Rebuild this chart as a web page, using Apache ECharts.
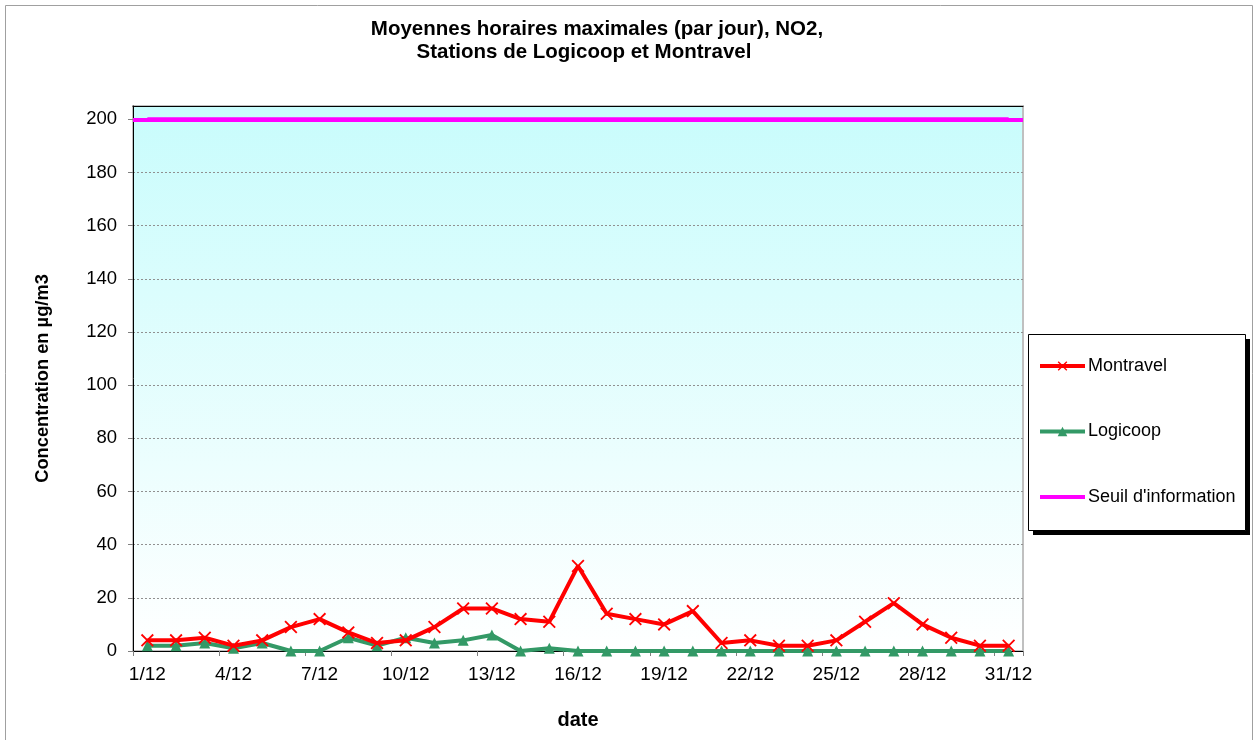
<!DOCTYPE html>
<html>
<head>
<meta charset="utf-8">
<script src="https://cdn.jsdelivr.net/npm/echarts@6/dist/echarts.min.js"></script>
<style>html,body{margin:0;padding:0;background:#fff}#c{width:1255px;height:740px}</style>
</head>
<body>
<div id="c"></div>
<script>
const categories = ['1/12','2/12','3/12','4/12','5/12','6/12','7/12','8/12','9/12','10/12','11/12','12/12','13/12','14/12','15/12','16/12','17/12','18/12','19/12','20/12','21/12','22/12','23/12','24/12','25/12','26/12','27/12','28/12','29/12','30/12','31/12'];
const montravel = [4,4,5,2,4,9,12,7,3,4,9,16,16,12,11,32,14,12,10,15,3,4,2,2,4,11,18,10,5,2,2];
const logicoop = [2,2,3,1,3,0,0,5,2,5,3,4,6,0,1,0,0,0,0,0,0,0,0,0,0,0,0,0,0,0,0];
const seuil = [200,200,200,200,200,200,200,200,200,200,200,200,200,200,200,200,200,200,200,200,200,200,200,200,200,200,200,200,200,200,200];

const font = 'Liberation Sans, Arial, sans-serif';
const xPath = 'path://M0,1 L1,0 L5,4 L9,0 L10,1 L6,5 L10,9 L9,10 L5,6 L1,10 L0,9 L4,5 Z';
const chart = echarts.init(document.getElementById('c'), null, {renderer:'canvas'});
chart.setOption({
  animation: false,
  backgroundColor: '#fff',
  title: [{
    text: 'Moyennes horaires maximales (par jour), NO2,',
    left: 597, top: 19, textAlign: 'center', padding: 0,
    textStyle: {fontFamily: font, fontSize: 20.5, fontWeight: 'bold', color: '#000'}
  }, {
    text: 'Stations de Logicoop et Montravel',
    left: 584, top: 42, textAlign: 'center', padding: 0,
    textStyle: {fontFamily: font, fontSize: 20.5, fontWeight: 'bold', color: '#000'}
  }],
  graphic: [
    {type:'rect', shape:{x:5.5,y:5.5,width:1247,height:740}, style:{fill:null, stroke:'#a0a0a0', lineWidth:1}, silent:true, z:-10},
    {type:'rect', shape:{x:1033,y:339,width:217,height:196}, style:{fill:'#000'}, silent:true, z:5},
    {type:'rect', shape:{x:1028.5,y:334.5,width:217,height:196}, style:{fill:'#fff', stroke:'#000', lineWidth:1}, silent:true, z:6}
  ],
  legend: {
    orient: 'vertical', left: 1038, top: 357, z: 10,
    padding: 0, itemWidth: 45, itemHeight: 12, itemGap: 47.5,
    textStyle: {fontFamily: font, fontSize: 18, color: '#000', padding: [0,0,0,-2]},
    data: [
      {name: 'Montravel', lineStyle: {width: 4}},
      {name: 'Logicoop', lineStyle: {width: 4}},
      {name: "Seuil d'information", lineStyle: {width: 4}, itemStyle: {opacity: 0}}
    ]
  },
  grid: {
    left: 133, right: 232, top: 106, bottom: 89, show: true,
    borderColor: '#c0c0c0', borderWidth: 2,
    backgroundColor: {type:'linear', x:0, y:0, x2:0, y2:1, colorStops:[{offset:0,color:'#c8fcfc'},{offset:1,color:'#ffffff'}]}
  },
  xAxis: [{
    type: 'category', data: categories, boundaryGap: true,
    name: 'date', nameLocation: 'middle', nameGap: 59,
    nameTextStyle: {fontFamily: font, fontSize: 20, fontWeight: 'bold', color: '#000'},
    axisLine: {lineStyle: {color: '#000', width: 1}},
    axisTick: {show: true, interval: 2, length: 5, lineStyle: {color: '#808080'}},
    axisLabel: {interval: 2, fontFamily: font, fontSize: 19, color: '#000', margin: 14}
  }, {
    type: 'category', data: categories, position: 'top',
    axisLine: {show: true, lineStyle: {color: '#000', width: 1}},
    axisTick: {show: false}, axisLabel: {show: false}, splitLine: {show: false}
  }],
  yAxis: {
    type: 'value', min: 0, max: 205, interval: 20,
    name: 'Concentration en µg/m3', nameLocation: 'middle', nameGap: 81, nameRotate: 90,
    nameTextStyle: {fontFamily: font, fontSize: 18.3, fontWeight: 'bold', color: '#000'},
    axisLine: {show: true, lineStyle: {color: '#000', width: 1}},
    axisTick: {show: true, length: 5, lineStyle: {color: '#808080'}},
    axisLabel: {showMaxLabel: false, fontFamily: font, fontSize: 18.5, color: '#000', margin: 16},
    splitLine: {show: true, lineStyle: {color: '#909090', type: [2, 2], width: 1}}
  },
  series: [
    {name: 'Montravel', type: 'line', data: montravel, symbol: xPath, symbolSize: 13, z: 4,
     itemStyle: {color: '#ff0000'}, lineStyle: {color: '#ff0000', width: 4}},
    {name: 'Logicoop', type: 'line', data: logicoop, symbol: 'triangle', symbolSize: 11, z: 3,
     itemStyle: {color: '#339966'}, lineStyle: {color: '#339966', width: 4}},
    {name: "Seuil d'information", type: 'line', data: seuil, symbol: 'none', z: 2,
     itemStyle: {color: '#ff00ff'}, lineStyle: {color: '#ff00ff', width: 4},
     markLine: {silent: true, symbol: 'none', label: {show: false},
       lineStyle: {color: '#ff00ff', width: 4, type: 'solid'},
       data: [{yAxis: seuil[0]}]}}
  ]
});
</script>
</body>
</html>
